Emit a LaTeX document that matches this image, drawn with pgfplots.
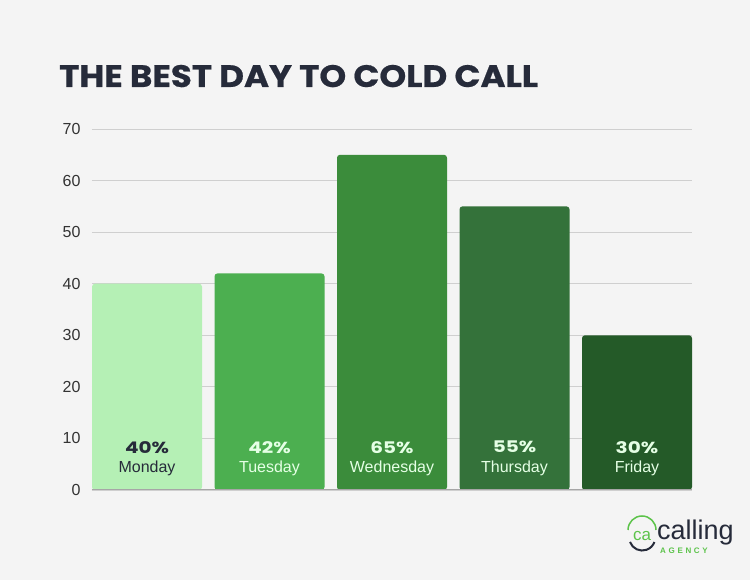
\documentclass[border=0pt]{standalone}
\usepackage{pgfplots}
\pgfplotsset{compat=1.18}
\usepackage{fontspec}
\setmainfont{Liberation Sans}
\newfontfamily\titlefont{Poppins}[FakeStretch=1.1,FakeBold=0.6]
\newfontfamily\pctfont{Poppins}[FakeStretch=1.25]
\definecolor{bgc}{HTML}{F4F4F4}
\definecolor{titc}{HTML}{262B3A}
\definecolor{cMon}{HTML}{B5F0B5}
\definecolor{cTue}{HTML}{4CAF50}
\definecolor{cWed}{HTML}{3B8C3B}
\definecolor{cThu}{HTML}{34723A}
\definecolor{cFri}{HTML}{245A28}
\definecolor{gridc}{HTML}{CFCFCF}
\definecolor{logog}{HTML}{5CC34A}
\begin{document}
\begin{tikzpicture}[x=1pt,y=1pt]
\fill[bgc] (0,0) rectangle (750,580);
\node[anchor=base west, text=titc, font=\titlefont\bfseries\fontsize{31}{31}\selectfont, inner sep=0] at (59,493) {THE BEST DAY TO COLD CALL};
\begin{axis}[
  at={(147pt,90pt)}, anchor=origin,
  scale only axis, width=600pt, height=361pt,
  xmin=-0.449, xmax=4.449, ymin=0, ymax=70,
  axis x line=none, axis y line*=left,
  y axis line style={draw=none},
  ytick={0,10,...,70},
  ymajorgrids, grid style={gridc, line width=0.8pt},
  major tick length=0pt,
  yticklabel style={font=\fontsize{16}{16}\selectfont, text=black!80, xshift=-8pt},
  /pgf/number format/assume math mode=true,
  ybar, bar width=110pt, bar shift=0pt,
  clip=false,
]
\addplot[fill=cMon, draw=none, rounded corners=3pt] coordinates {(0,40)};
\addplot[fill=cTue, draw=none, rounded corners=3pt] coordinates {(1,42)};
\addplot[fill=cWed, draw=none, rounded corners=3pt] coordinates {(2,65)};
\addplot[fill=cThu, draw=none, rounded corners=3pt] coordinates {(3,55)};
\addplot[fill=cFri, draw=none, rounded corners=3pt] coordinates {(4,30)};
\draw[gray!70, line width=1pt] (axis cs:-0.449,0) -- (axis cs:4.449,0);
\foreach \i/\p/\d/\c in {0/40/Monday/titc,1/42/Tuesday/white!90!green,2/65/Wednesday/white!90!green,3/55/Thursday/white!90!green,4/30/Friday/white!90!green}{
  \edef\tmp{\noexpand\node[text=\c, font=\noexpand\pctfont\noexpand\bfseries\noexpand\fontsize{16}{16}\noexpand\selectfont] at (axis cs:\i,8.3) {\p\noexpand\%};
  \noexpand\node[text=\c, font=\noexpand\fontsize{16}{16}\noexpand\selectfont] at (axis cs:\i,4.2) {\d};}
  \tmp
}
\end{axis}
% logo
\draw[logog, line width=1.5pt] (628,50) arc (180:0:14);
\node[text=logog, font=\fontsize{17}{17}\selectfont] at (642,44) {ca};
\draw[titc, line width=2pt] (630,38) arc (200:340:13);
\node[anchor=base west, text=titc, font=\fontsize{27}{27}\selectfont, inner sep=0] at (657,40) {calling};
\node[anchor=base west, text=logog, font=\bfseries\fontsize{8}{8}\selectfont, inner sep=0] at (660,26) {A\,\,G\,\,E\,\,N\,\,C\,\,Y};
\end{tikzpicture}
\end{document}
